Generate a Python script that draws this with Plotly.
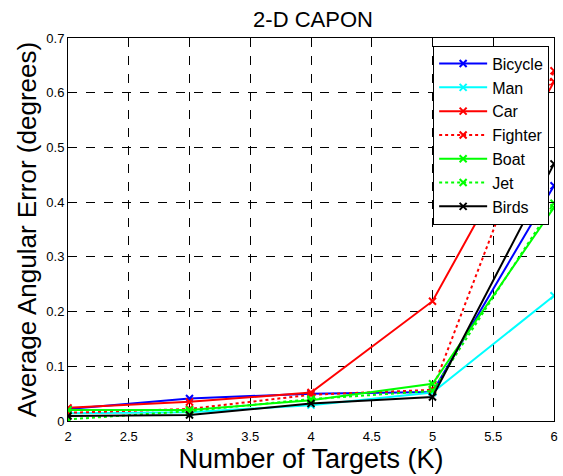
import plotly.graph_objects as go

# Number of targets K
targets = [2, 3, 4, 5, 6]

# Average angular error (degrees) for each target type
bicycle = [0.022, 0.041, 0.050, 0.053, 0.430]
man = [0.014, 0.016, 0.029, 0.052, 0.229]
car = [0.024, 0.035, 0.052, 0.219, 0.620]
fighter = [0.015, 0.022, 0.048, 0.057, 0.640]
boat = [0.020, 0.020, 0.038, 0.068, 0.390]
jet = [0.003, 0.018, 0.040, 0.055, 0.398]
birds = [0.009, 0.011, 0.032, 0.044, 0.470]

series = [
    ("Bicycle", bicycle, "#0000FF", "solid"),
    ("Man", man, "#00FFFF", "solid"),
    ("Car", car, "#FF0000", "solid"),
    ("Fighter", fighter, "#FF0000", "dot"),
    ("Boat", boat, "#00FF00", "solid"),
    ("Jet", jet, "#00FF00", "dot"),
    ("Birds", birds, "#000000", "solid"),
]

x_ticks = [2, 2.5, 3, 3.5, 4, 4.5, 5, 5.5, 6]
y_ticks = [0, 0.1, 0.2, 0.3, 0.4, 0.5, 0.6, 0.7]

FONT = "Arial, Liberation Sans, sans-serif"

fig = go.Figure()
for name, vals, color, dash in series:
    fig.add_trace(go.Scatter(
        x=targets, y=vals, name=name, mode="lines+markers",
        line=dict(color=color, width=2, dash=dash),
        marker=dict(symbol="x-thin", size=7, line=dict(color=color, width=2)),
    ))

axis_common = dict(
    showline=True, linecolor="black", linewidth=1, mirror="ticks",
    ticks="inside", ticklen=5, tickcolor="black",
    showgrid=True, gridcolor="black", griddash="dash", gridwidth=1,
    zeroline=False, tickfont=dict(family=FONT, size=13, color="black"),
)

fig.update_layout(
    width=563, height=476,
    margin=dict(l=68, r=5, t=38, b=55),
    paper_bgcolor="white", plot_bgcolor="white",
    title=dict(text="2-D CAPON", x=(68 + 558) / 2 / 563, xanchor="center",
               y=1 - 19 / 476, yanchor="middle",
               font=dict(family=FONT, size=22, color="black")),
    xaxis=dict(range=[2, 6], tickvals=x_ticks,
               ticktext=[f"{t:g}" for t in x_ticks],
               ticklabelstandoff=3,
               title=dict(text="Number of Targets (K)", standoff=0,
                          font=dict(family=FONT, size=27, color="black")),
               **axis_common),
    yaxis=dict(range=[0, 0.7], tickvals=y_ticks,
               ticktext=[f"{t:g}" for t in y_ticks],
               title=dict(text="Average Angular Error (degrees)", standoff=2,
                          font=dict(family=FONT, size=26, color="black")),
               **axis_common),
    legend=dict(x=0.99, xanchor="right", y=0.98, yanchor="top",
                bgcolor="white", bordercolor="black", borderwidth=1,
                font=dict(family=FONT, size=16, color="black"),
                tracegroupgap=0, itemwidth=48),
    showlegend=True,
)

fig.write_html("out.html")
